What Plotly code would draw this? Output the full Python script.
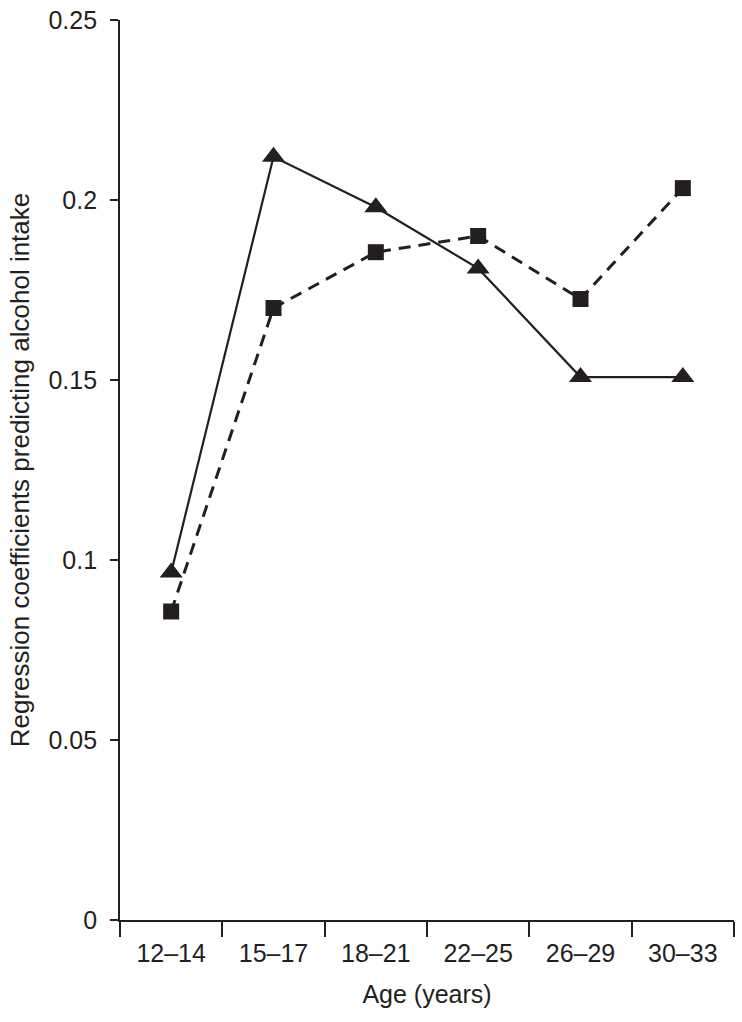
import plotly.graph_objects as go

categories = ["12–14", "15–17", "18–21", "22–25", "26–29", "30–33"]
triangle_series = [0.0965, 0.212, 0.198, 0.181, 0.1508, 0.1508]
square_series = [0.0857, 0.170, 0.1855, 0.190, 0.1725, 0.2033]
y_ticks = [0, 0.05, 0.1, 0.15, 0.2, 0.25]
y_tick_labels = ["0", "0.05", "0.1", "0.15", "0.2", "0.25"]

FONT = "Liberation Sans Narrow, Arial Narrow, Liberation Sans, Arial, sans-serif"
INK = "#231f20"

fig = go.Figure()
fig.add_trace(go.Scatter(
    x=categories, y=square_series, mode="lines+markers",
    line=dict(color=INK, width=3, dash="12px,8px"),
    marker=dict(symbol="square", size=16, color=INK),
    showlegend=False,
))
fig.add_trace(go.Scatter(
    x=categories, y=triangle_series, mode="lines+markers",
    line=dict(color=INK, width=2.2),
    marker=dict(symbol="triangle-up", size=20, color=INK),
    showlegend=False,
))

fig.update_layout(
    width=742, height=1022,
    margin=dict(l=120, r=8, t=20, b=102, autoexpand=False),
    paper_bgcolor="white", plot_bgcolor="white",
    font=dict(family=FONT, size=25, color=INK),
)
fig.update_xaxes(
    type="category", range=[-0.5, 5.5], automargin=False,
    tickson="boundaries", ticks="outside", ticklen=15, tickwidth=1.8, tickcolor=INK,
    showline=True, linecolor=INK, linewidth=1.8, showgrid=False, zeroline=False,
    tickfont=dict(size=25), ticklabelstandoff=10,
    title=dict(text="Age (years)", font=dict(size=25), standoff=20),
)
fig.update_yaxes(
    range=[0, 0.25], tickvals=y_ticks, ticktext=y_tick_labels, automargin=False,
    ticks="outside", ticklen=8, tickwidth=1.8, tickcolor=INK,
    showline=True, linecolor=INK, linewidth=1.8, showgrid=False, zeroline=False,
    tickfont=dict(size=25), ticklabelstandoff=8, ticklabeloverflow="allow",
    title=dict(text="Regression coefficients predicting alcohol intake", font=dict(size=26), standoff=11),
)
# remove the browser's default 8px body margin so the figure fills the window
fig.write_html(
    "out.html",
    config={"displayModeBar": False},
    post_script="document.body.style.margin='0';document.body.style.overflow='hidden';",
)
